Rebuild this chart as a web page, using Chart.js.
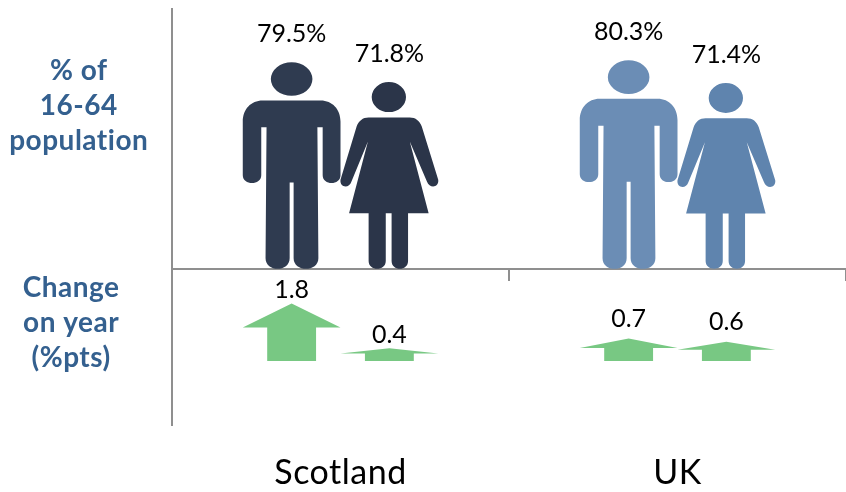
<!DOCTYPE html>
<html>
<head>
<meta charset="utf-8">
<style>
  html, body { margin: 0; padding: 0; background: #fff; overflow: hidden; }
  canvas { display: block; }
</style>
<script src="https://cdn.jsdelivr.net/npm/chart.js@4"></script>
</head>
<body>
<canvas id="employmentChart" width="846" height="492"></canvas>
<script>
var categories = ['Scotland', 'UK'];
var menRate = [79.5, 80.3];
var womenRate = [71.8, 71.4];
var menChange = [1.8, 0.7];
var womenChange = [0.4, 0.6];
var rateTitle = ['% of', '16-64', 'population'];
var changeTitle = ['Change', 'on year', '(%pts)'];

var axisGrey = '#8f8f8f';
var titleBlue = '#34608f';
var menColors = ['#2f3b50', '#6b8db5'];
var womenColors = ['#2b3549', '#5f84ae'];
var arrowGreen = '#78c883';
var changeLift = [13, 20];

// outlines in their own units, stretched over the bar rectangle when drawn
function manIcon(ctx, p) {
    ctx.ellipse(p(148, 50)[0], p(148, 50)[1], p(63, 0)[0] - p(0, 0)[0], p(0, 50)[1] - p(0, 0)[1], 0, 0, Math.PI * 2);
    ctx.moveTo.apply(ctx, p(60, 114));
    ctx.bezierCurveTo.apply(ctx, p(25, 114).concat(p(0, 140), p(0, 177)));
    ctx.lineTo.apply(ctx, p(0, 337));
    ctx.bezierCurveTo.apply(ctx, p(0, 368).concat(p(56, 368), p(56, 337)));
    ctx.lineTo.apply(ctx, p(56, 194));
    ctx.lineTo.apply(ctx, p(72, 194));
    ctx.lineTo.apply(ctx, p(69, 585));
    ctx.bezierCurveTo.apply(ctx, p(69, 627).concat(p(142, 627), p(142, 585)));
    ctx.lineTo.apply(ctx, p(142, 359));
    ctx.lineTo.apply(ctx, p(154, 359));
    ctx.lineTo.apply(ctx, p(154, 585));
    ctx.bezierCurveTo.apply(ctx, p(154, 627).concat(p(229, 627), p(229, 585)));
    ctx.lineTo.apply(ctx, p(226, 194));
    ctx.lineTo.apply(ctx, p(242, 194));
    ctx.lineTo.apply(ctx, p(242, 337));
    ctx.bezierCurveTo.apply(ctx, p(242, 368).concat(p(296, 368), p(296, 337)));
    ctx.lineTo.apply(ctx, p(296, 177));
    ctx.bezierCurveTo.apply(ctx, p(296, 140).concat(p(271, 114), p(236, 114)));
    ctx.closePath();
}

function womanIcon(ctx, p) {
    ctx.ellipse(p(141, 44)[0], p(141, 44)[1], p(50, 0)[0] - p(0, 0)[0], p(0, 45)[1] - p(0, 0)[1], 0, 0, Math.PI * 2);
    ctx.moveTo.apply(ctx, p(82, 105));
    ctx.bezierCurveTo.apply(ctx, p(65, 105).concat(p(53, 115), p(47, 132)));
    ctx.lineTo.apply(ctx, p(0, 292));
    ctx.bezierCurveTo.apply(ctx, p(-3, 315).concat(p(25, 320), p(32, 297)));
    ctx.lineTo.apply(ctx, p(80, 177));
    ctx.lineTo.apply(ctx, p(25, 392));
    ctx.lineTo.apply(ctx, p(82, 392));
    ctx.lineTo.apply(ctx, p(82, 535));
    ctx.bezierCurveTo.apply(ctx, p(82, 566).concat(p(132, 566), p(132, 535)));
    ctx.lineTo.apply(ctx, p(132, 392));
    ctx.lineTo.apply(ctx, p(149, 392));
    ctx.lineTo.apply(ctx, p(149, 535));
    ctx.bezierCurveTo.apply(ctx, p(149, 566).concat(p(197, 566), p(197, 535)));
    ctx.lineTo.apply(ctx, p(197, 392));
    ctx.lineTo.apply(ctx, p(257, 392));
    ctx.lineTo.apply(ctx, p(202, 177));
    ctx.lineTo.apply(ctx, p(252, 297));
    ctx.bezierCurveTo.apply(ctx, p(260, 320).concat(p(288, 315), p(285, 292)));
    ctx.lineTo.apply(ctx, p(237, 132));
    ctx.bezierCurveTo.apply(ctx, p(231, 115).concat(p(219, 105), p(202, 105)));
    ctx.closePath();
}

function arrowIcon(ctx, p) {
    ctx.moveTo.apply(ctx, p(50, 0));
    ctx.lineTo.apply(ctx, p(100, 42));
    ctx.lineTo.apply(ctx, p(75, 42));
    ctx.lineTo.apply(ctx, p(75, 100));
    ctx.lineTo.apply(ctx, p(25, 100));
    ctx.lineTo.apply(ctx, p(25, 42));
    ctx.lineTo.apply(ctx, p(0, 42));
    ctx.closePath();
}

var icons = {
    man: { draw: manIcon, w: 296, h: 617 },
    woman: { draw: womanIcon, w: 285, h: 559 },
    arrow: { draw: arrowIcon, w: 100, h: 100 }
};

// each bar is painted as its icon instead of a rectangle
var pictogramPlugin = {
    id: 'pictogram',
    // axis text in the original is a little wider than Lato
    beforeDraw: function (chart) { chart.ctx.letterSpacing = '0.5px'; },
    beforeDatasetsDraw: function (chart) { chart.ctx.letterSpacing = '0px'; },
    beforeDatasetDraw: function (chart, args) {
        var ctx = chart.ctx;
        var dataset = chart.data.datasets[args.index];
        var icon = icons[dataset.icon];
        args.meta.data.forEach(function (bar, i) {
            var left = bar.x - bar.width / 2;
            var height = bar.base - bar.y;
            var p = function (x, y) {
                return [left + x / icon.w * bar.width, bar.y + y / icon.h * height];
            };
            ctx.save();
            ctx.fillStyle = bar.options.backgroundColor;
            ctx.beginPath();
            icon.draw(ctx, p);
            ctx.fill();
            ctx.restore();

            ctx.save();
            ctx.fillStyle = '#000';
            ctx.font = '25px Lato';
            ctx.textAlign = 'center';
            ctx.textBaseline = 'middle';
            if (dataset.icon === 'arrow') {
                ctx.fillText(dataset.data[i].toFixed(1), bar.x, bar.y - changeLift[i]);
            } else {
                ctx.fillText(dataset.data[i].toFixed(1) + '%', bar.x, bar.y - 28);
            }
            ctx.restore();
        });
        return false;
    }
};

function sideAxis(weight, min, max, tickValue, title, padding) {
    return {
        type: 'linear',
        position: 'left',
        stack: 'rows',
        stackWeight: weight,
        min: min,
        max: max,
        border: { color: axisGrey, width: 2 },
        grid: { drawOnChartArea: false, drawTicks: false },
        ticks: {
            padding: padding,
            crossAlign: 'center',
            color: titleBlue,
            font: { family: 'Lato', size: 28, weight: 'bold', lineHeight: 1.25 },
            callback: function () { return title; }
        },
        afterBuildTicks: function (scale) { scale.ticks = [{ value: tickValue }]; },
        afterFit: function (scale) {
            scale.width = 172;
            scale.paddingTop = 0;
            scale.paddingBottom = 0;
        }
    };
}

var chart = new Chart(document.getElementById('employmentChart'), {
    type: 'bar',
    plugins: [pictogramPlugin],
    data: {
        labels: categories,
        datasets: [
            { label: 'Men', icon: 'man', data: menRate, yAxisID: 'y', stack: 'men', backgroundColor: menColors },
            { label: 'Women', icon: 'woman', data: womenRate, yAxisID: 'y', stack: 'women', backgroundColor: womenColors },
            { label: 'Men change', icon: 'arrow', data: menChange, yAxisID: 'y2', stack: 'men', backgroundColor: arrowGreen },
            { label: 'Women change', icon: 'arrow', data: womenChange, yAxisID: 'y2', stack: 'women', backgroundColor: arrowGreen }
        ]
    },
    options: {
        responsive: false,
        animation: false,
        layout: { padding: { top: 9 } },
        categoryPercentage: 0.58,
        barPercentage: 1,
        plugins: { legend: { display: false }, tooltip: { enabled: false } },
        scales: {
            x: {
                position: 'bottom',
                border: { display: false },
                grid: { display: false },
                ticks: { padding: 20, color: '#000', font: { family: 'Lato', size: 34 } },
                afterFit: function (scale) {
                    scale.height = 67;
                    scale.paddingLeft = 0;
                    scale.paddingRight = 0;
                }
            },
            xLine: {
                type: 'category',
                position: { y: 0 },
                border: { color: axisGrey, width: 2 },
                grid: { offset: true, drawOnChartArea: false, drawTicks: true, tickLength: 11, color: axisGrey, lineWidth: 2 },
                ticks: { display: false }
            },
            y2: sideAxis(156, -2, 2.875, 1.19, changeTitle, 54),
            y: sideAxis(260, 0, 100, 62.7, rateTitle, 26)
        }
    }
});
</script>
</body>
</html>
